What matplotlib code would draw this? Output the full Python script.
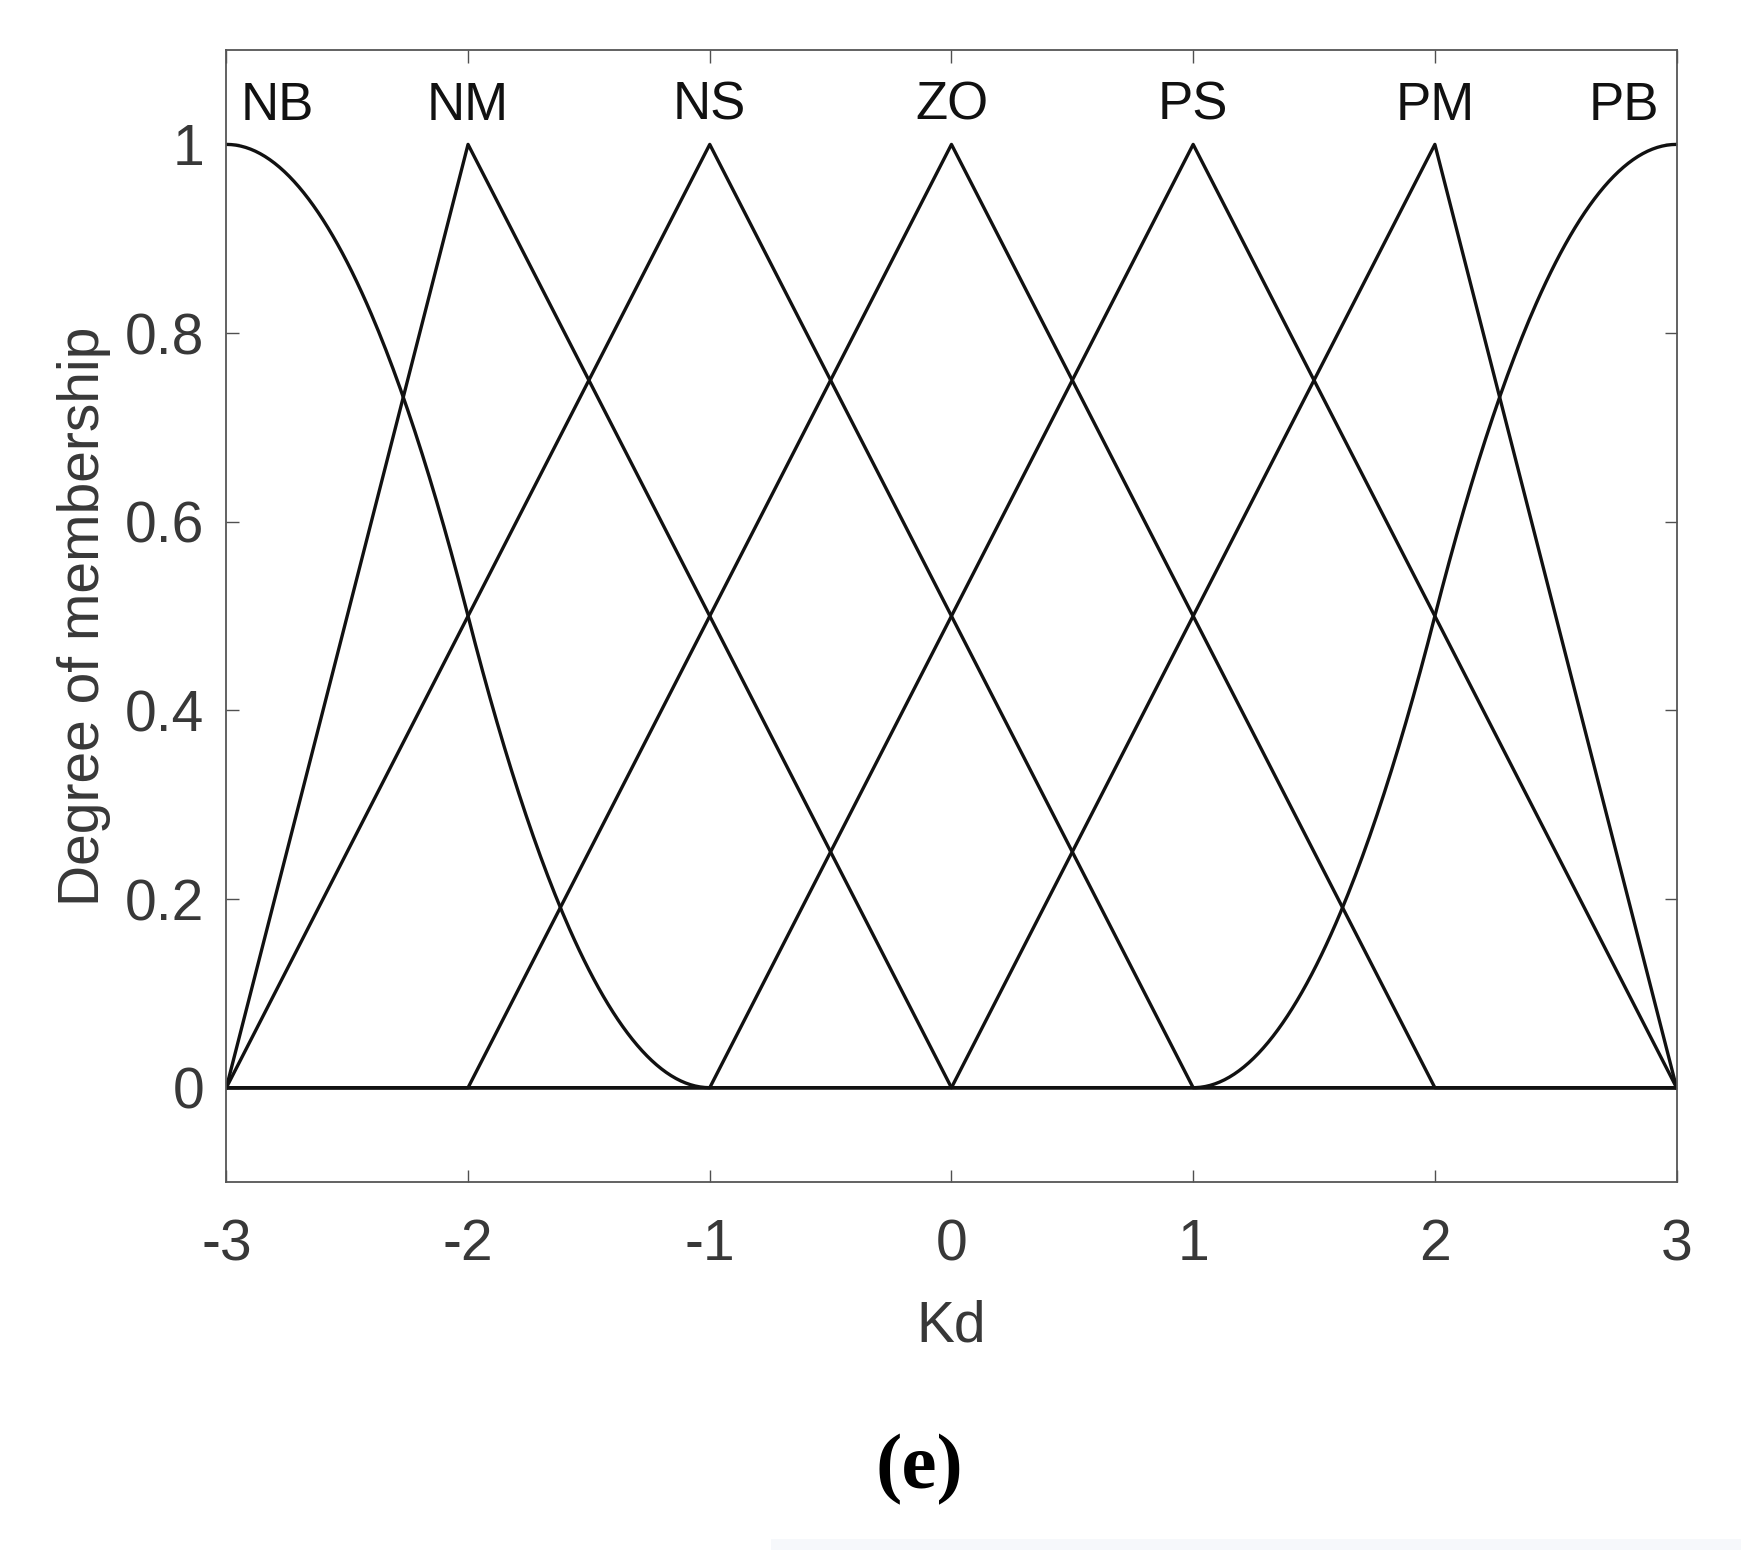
import numpy as np
import matplotlib
matplotlib.use("Agg")
import matplotlib.pyplot as plt
from matplotlib.patches import Rectangle

plt.rcParams['font.family'] = ['Liberation Sans', 'DejaVu Sans']

# membership functions of Kd (MATLAB style: trimf / zmf / smf)
mf_names = ['NB', 'NM', 'NS', 'ZO', 'PS', 'PM', 'PB']
mf_types = ['zmf', 'trimf', 'trimf', 'trimf', 'trimf', 'trimf', 'smf']
mf_params = [[-3, -1], [-3, -2, 0], [-3, -1, 1], [-2, 0, 2],
             [-1, 1, 3], [0, 2, 3], [1, 3]]
label_x = [-2.79, -2, -1, 0, 1, 2, 2.78]

x_ticks = [-3, -2, -1, 0, 1, 2, 3]
y_ticks = [0, 0.2, 0.4, 0.6, 0.8, 1]
y_ticklabels = ['0', '0.2', '0.4', '0.6', '0.8', '1']


def trimf(x, a, b, c):
    left = np.where(b > a, (x - a) / max(b - a, 1e-12), 1.0)
    right = np.where(c > b, (c - x) / max(c - b, 1e-12), 1.0)
    return np.clip(np.minimum(left, right), 0, 1)


def smf(x, a, b):
    m = (a + b) / 2
    y = np.zeros_like(x)
    y[x >= b] = 1
    i = (x > a) & (x <= m)
    y[i] = 2 * ((x[i] - a) / (b - a)) ** 2
    i = (x > m) & (x < b)
    y[i] = 1 - 2 * ((x[i] - b) / (b - a)) ** 2
    return y


def zmf(x, a, b):
    return 1 - smf(x, a, b)


x = np.linspace(-3, 3, 601)

fig = plt.figure(figsize=(17.41, 15.5), dpi=100)
ax = fig.add_axes([0.130, 0.2374, 0.833, 0.7303])

for t, p in zip(mf_types, mf_params):
    if t == 'trimf':
        y = trimf(x, *p)
    elif t == 'smf':
        y = smf(x, *p)
    else:
        y = zmf(x, *p)
    ax.plot(x, y, color='#111111', linewidth=2.4)

for name, lx in zip(mf_names, label_x):
    ax.text(lx, 1.041, name, ha='center', va='center', fontsize=38, color='#111111')

ax.set_xlim(-3, 3)
ax.set_ylim(-0.1, 1.1)
ax.set_xticks(x_ticks)
ax.set_xticklabels([str(v) for v in x_ticks])
ax.set_yticks(y_ticks)
ax.set_yticklabels(y_ticklabels)
ax.tick_params(direction='in', length=9, width=1, colors='#505050',
               labelcolor='#383838', labelsize=41, top=True, right=True)
ax.tick_params(axis='x', pad=26)
ax.tick_params(axis='y', pad=16)
for s in ax.spines.values():
    s.set_color('#555555')
    s.set_linewidth(1.3)

ax.set_xlabel('Kd', fontsize=41, color='#383838', labelpad=20)
ax.set_ylabel('Degree of membership', fontsize=41, color='#383838', labelpad=10)

fig.text(0.528, 0.052, '(e)', ha='center', va='center', fontsize=57,
         fontweight='bold', family='Liberation Serif')

# faint strip at the bottom edge of the scan
fig.patches.append(Rectangle((0.443, 0.0), 0.557, 0.007, transform=fig.transFigure,
                             facecolor='#f6f8fb', edgecolor='none'))

fig.savefig('out.png', dpi=100)
